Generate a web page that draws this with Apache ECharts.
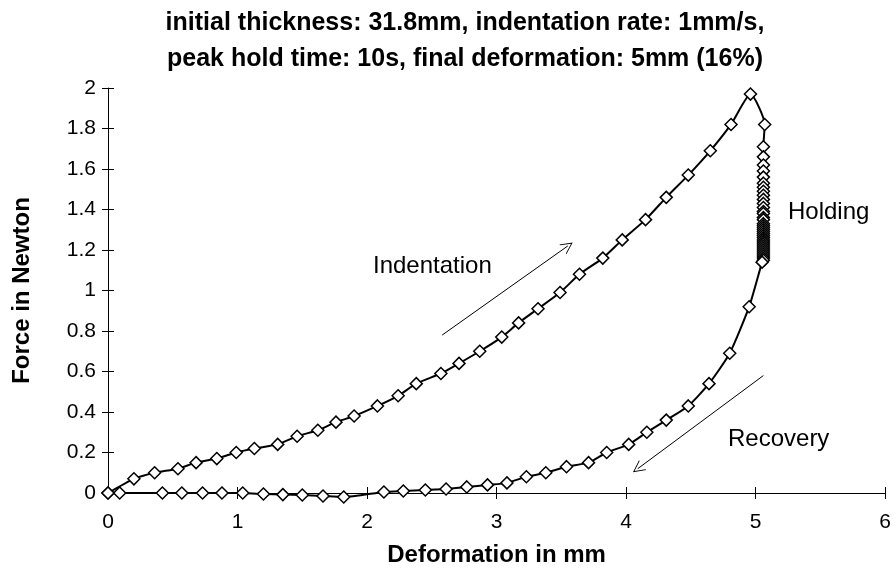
<!DOCTYPE html>
<html>
<head>
<meta charset="utf-8">
<script src="https://cdn.jsdelivr.net/npm/echarts@6/dist/echarts.min.js"></script>
<style>
    html, body { margin: 0; padding: 0; background: #fff; }
    #chart { width: 894px; height: 572px; }
</style>
</head>
<body>
<div id="chart"></div>
<script>
    // loading (indentation) branch
    const loadDef = [0, 0.20, 0.36, 0.54, 0.68, 0.84, 0.99, 1.13, 1.31, 1.46, 1.62, 1.76, 1.90, 2.08, 2.24, 2.38,
        2.57, 2.71, 2.87, 3.04, 3.17, 3.32, 3.49, 3.64, 3.82, 3.97, 4.15, 4.31, 4.48, 4.65, 4.81, 4.96];
    const loadForce = [0, 0.07, 0.10, 0.12, 0.15, 0.17, 0.20, 0.22, 0.24, 0.28, 0.31, 0.35, 0.38, 0.43, 0.48, 0.54,
        0.59, 0.64, 0.70, 0.77, 0.84, 0.91, 0.99, 1.08, 1.16, 1.25, 1.35, 1.46, 1.57, 1.69, 1.82, 1.97];
    // holding at 5mm
    const holdDef = [5.07, 5.06, 5.06, 5.06, 5.06, 5.06, 5.06, 5.06, 5.06, 5.06, 5.06, 5.06, 5.06, 5.06, 5.06, 5.06,
        5.06, 5.06, 5.06, 5.06, 5.06, 5.06, 5.06, 5.06, 5.06, 5.06, 5.06, 5.06, 5.06, 5.06, 5.06, 5.06, 5.06, 5.06,
        5.06, 5.06, 5.05];
    const holdForce = [1.82, 1.71, 1.66, 1.62, 1.59, 1.56, 1.53, 1.51, 1.49, 1.47, 1.45, 1.43, 1.41, 1.39, 1.38, 1.36,
        1.35, 1.33, 1.32, 1.31, 1.30, 1.29, 1.28, 1.27, 1.26, 1.25, 1.24, 1.23, 1.22, 1.21, 1.20, 1.19, 1.18, 1.17,
        1.16, 1.15, 1.14];
    // recovery branch
    const recDef = [4.95, 4.80, 4.64, 4.48, 4.31, 4.16, 4.02, 3.85, 3.71, 3.54, 3.38, 3.23, 3.08, 2.93, 2.77, 2.61,
        2.45, 2.28, 2.13, 1.82, 1.66, 1.50, 1.35, 1.20, 1.04, 0.88, 0.73, 0.57, 0.42, 0.09, 0];
    const recForce = [0.92, 0.69, 0.54, 0.43, 0.36, 0.30, 0.24, 0.20, 0.15, 0.13, 0.10, 0.08, 0.05, 0.04, 0.03, 0.02,
        0.015, 0.01, 0.005, -0.02, -0.015, -0.01, -0.008, -0.005, 0, 0, 0, 0, 0, 0, 0];

    const indentArrow = [[2.58, 0.78], [3.55, 1.22]];
    const recoverArrow = [[5.06, 0.58], [4.09, 0.12]];

    const xTicks = [0, 1, 2, 3, 4, 5, 6];
    const yTicks = [0, 0.2, 0.4, 0.6, 0.8, 1, 1.2, 1.4, 1.6, 1.8, 2];

    let curve = [];
    for (let i = 0; i < loadDef.length; i++) curve.push([loadDef[i], loadForce[i]]);
    for (let i = 0; i < holdDef.length; i++) curve.push([holdDef[i], holdForce[i]]);
    for (let i = 0; i < recDef.length; i++) curve.push([recDef[i], recForce[i]]);

    const font = 'Arial, "Liberation Sans", sans-serif';
    const openArrow = 'path://M0,12 L6,0 L12,12 L11,12 L6,2 L1,12 Z';

    function axisBase(extra) {
        return Object.assign({
            type: 'value',
            splitLine: { show: false },
            axisLine: { show: true, onZero: false, lineStyle: { color: '#000', width: 1 } },
            axisTick: { show: true, inside: false, length: 6, lineStyle: { color: '#000' } },
            axisLabel: { color: '#000', fontFamily: font, fontSize: 21 }
        }, extra);
    }

    let chart = echarts.init(document.getElementById('chart'));
    chart.setOption({
        animation: false,
        backgroundColor: '#fff',
        grid: { left: 108, right: 2, top: 88, bottom: 75 },
        xAxis: [
            axisBase({
                min: 0, max: 6, interval: 1,
                name: 'Deformation in mm', nameLocation: 'middle', nameGap: 50,
                nameTextStyle: { color: '#000', fontFamily: font, fontSize: 24, fontWeight: 'bold' },
                axisLabel: { color: '#000', fontFamily: font, fontSize: 21, margin: 19,
                    formatter: v => xTicks.indexOf(v) >= 0 ? String(v) : '' }
            }),
            axisBase({
                min: 0, max: 6, interval: 1, axisLine: { show: false },
                axisTick: { show: true, inside: true, length: 6, lineStyle: { color: '#000' } },
                axisLabel: { show: false }, position: 'bottom'
            })
        ],
        yAxis: [
            axisBase({
                min: 0, max: 2, interval: 0.2,
                name: 'Force in Newton', nameLocation: 'middle', nameGap: 74,
                nameTextStyle: { color: '#000', fontFamily: font, fontSize: 24, fontWeight: 'bold' },
                axisLabel: { color: '#000', fontFamily: font, fontSize: 21, margin: 12,
                    formatter: v => String(Math.round(v * 10) / 10) }
            }),
            axisBase({
                min: 0, max: 2, interval: 0.2, axisLine: { show: false }, position: 'left',
                axisTick: { show: true, inside: true, length: 6, lineStyle: { color: '#000' } },
                axisLabel: { show: false }
            })
        ],
        graphic: [
            { type: 'text', x: 465, y: 5, style: {
                text: 'initial thickness: 31.8mm, indentation rate: 1mm/s,\npeak hold time: 10s, final deformation: 5mm (16%)',
                font: 'bold 25px ' + font, fill: '#000', textAlign: 'center', lineHeight: 36 } },
            { type: 'text', left: 373, top: 254, style: { text: 'Indentation', font: '24px ' + font, fill: '#000' } },
            { type: 'text', left: 788, top: 200, style: { text: 'Holding', font: '24px ' + font, fill: '#000' } },
            { type: 'text', left: 728, top: 427, style: { text: 'Recovery', font: '24px ' + font, fill: '#000' } }
        ],
        series: [
            {
                type: 'line',
                data: curve,
                clip: false,
                smooth: 0.2,
                symbol: 'diamond',
                symbolSize: 12,
                lineStyle: { color: '#000', width: 2 },
                itemStyle: { color: '#fff', borderColor: '#000', borderWidth: 1.5 },
                z: 3
            },
            {
                type: 'lines',
                coordinateSystem: 'cartesian2d',
                symbol: ['none', openArrow],
                symbolSize: 12,
                lineStyle: { color: '#000', width: 1, opacity: 1 },
                data: [{ coords: indentArrow }, { coords: recoverArrow }],
                z: 2
            }
        ]
    });
</script>
</body>
</html>
